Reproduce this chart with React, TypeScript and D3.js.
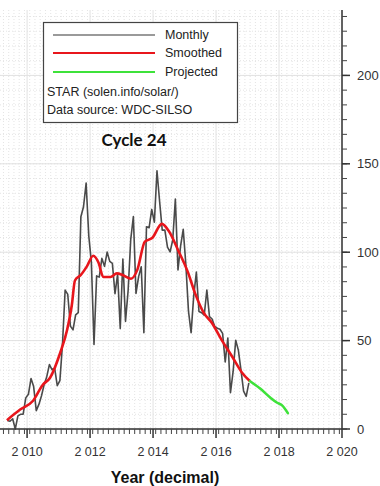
import React from "react";
import * as d3 from "d3";

// monthly sunspot numbers, May 2009 .. Jan 2017 (one value per month)
const monthlyStart = 2009 + 4.5 / 12;
const monthly = [
  4.8, 4.4, 5.8, 0.0, 7.4, 8.3, 8.4, 17.6,
  19.6, 28.5, 24.0, 10.4, 13.9, 18.8, 25.2, 29.6, 36.4, 33.6, 34.4, 24.5,
  27.3, 48.3, 78.6, 76.1, 58.2, 56.1, 64.5, 65.8, 120.1, 125.7, 139.1, 109.3,
  94.4, 47.8, 86.6, 85.9, 96.5, 92.0, 100.1, 94.8, 93.7, 76.5, 87.6, 56.8,
  96.1, 60.9, 78.3, 107.3, 120.2, 76.7, 86.2, 91.8, 54.5, 114.4, 113.9, 124.2,
  117.0, 146.1, 128.7, 112.5, 112.5, 102.9, 100.2, 106.9, 130.0, 90.0, 103.6, 112.9,
  93.0, 66.7, 54.5, 75.3, 88.8, 66.5, 65.8, 64.4, 78.6, 63.6, 62.2, 58.0,
  57.0, 56.4, 54.1, 37.9, 51.5, 20.5, 32.4, 50.2, 44.6, 33.4, 21.4, 18.5,
  26.1,
];

// smoothed curve [year, value]
const smoothed: [number, number][] = [
  [2009.36, 5], [2009.78, 11], [2010.19, 16], [2010.5, 25], [2010.73, 29],
  [2011.05, 43], [2011.27, 56], [2011.42, 70], [2011.52, 84], [2011.7, 87],
  [2011.9, 92], [2012.1, 98], [2012.27, 94], [2012.42, 86], [2012.65, 86],
  [2012.85, 88], [2013.05, 87], [2013.3, 85], [2013.5, 90], [2013.74, 106],
  [2013.97, 108], [2014.28, 116], [2014.5, 112], [2014.8, 101], [2015.1, 89],
  [2015.33, 77], [2015.6, 66], [2015.87, 60], [2016.19, 50], [2016.51, 41],
  [2016.82, 32], [2017.08, 27],
];

// projected curve [year, value]
const projected: [number, number][] = [
  [2017.08, 27], [2017.39, 23], [2017.71, 18], [2017.93, 15], [2018.09, 13.5], [2018.28, 9],
];

const xTickYears = [2010, 2012, 2014, 2016, 2018, 2020];
const yTickValues = [0, 50, 100, 150, 200];

const W = 380;
const H = 486;

export default function App() {
  const x = d3.scaleLinear().domain([2009.14, 2020]).range([0, 342]);
  const y = d3.scaleLinear().domain([0, 237]).range([429, 10]);

  const monthlyPts: [number, number][] = monthly.map((v, i) => [monthlyStart + i / 12, v]);

  const lineLin = d3
    .line<[number, number]>()
    .x((d) => x(d[0]))
    .y((d) => y(d[1]));
  const lineSmooth = d3
    .line<[number, number]>()
    .x((d) => x(d[0]))
    .y((d) => y(d[1]))
    .curve(d3.curveMonotoneX);

  const x0 = x(2020);
  const y0 = y(0);

  // minor ticks: every 2 months on x, every 50/6 on y
  const xMinor = d3.range(2009.25, 2020.0001, 1 / 6).filter((v) => x(v) >= 0);
  const yMinor = d3.range(0, 237, 50 / 6);

  return (
    <div style={{ position: "fixed", left: 0, top: 0 }}>
      <svg width={W} height={H} style={{ display: "block", background: "#fff" }}>
        {/* grid */}
        <g>
          {xMinor.map((v, i) => (
            <line key={"gx" + i} x1={x(v)} x2={x(v)} y1={y(237)} y2={y0}
              stroke="#e4e4e4" strokeWidth={1} strokeDasharray="1,2" />
          ))}
          {yMinor.map((v, i) => (
            <line key={"gy" + i} x1={0} x2={x0} y1={y(v)} y2={y(v)}
              stroke="#e4e4e4" strokeWidth={1} strokeDasharray="1,2" />
          ))}
          {xTickYears.map((v) => (
            <line key={"GX" + v} x1={x(v)} x2={x(v)} y1={y(237)} y2={y0}
              stroke="#e2e2e2" strokeWidth={1} />
          ))}
          {yTickValues.map((v) => (
            <line key={"GY" + v} x1={0} x2={x0} y1={y(v)} y2={y(v)}
              stroke="#e2e2e2" strokeWidth={1} />
          ))}
        </g>

        {/* series */}
        <path d={lineLin(monthlyPts) || ""} fill="none" stroke="#4a4a4a" strokeWidth={1.6} strokeLinejoin="round" />
        <path d={lineSmooth(smoothed) || ""} fill="none" stroke="#e8161c" strokeWidth={2.6} strokeLinejoin="round" />
        <path d={lineSmooth(projected) || ""} fill="none" stroke="#3ee23a" strokeWidth={2.6} strokeLinecap="round" />

        {/* x axis */}
        <g fontFamily="Liberation Sans, Arial, sans-serif" fontSize={12.5} fill="#333">
          <line x1={0} x2={x0} y1={y0} y2={y0} stroke="#333" strokeWidth={1.5} />
          {xMinor.map((v, i) => (
            <line key={"tx" + i} x1={x(v)} x2={x(v)} y1={y0} y2={y0 + 5} stroke="#444" strokeWidth={1} />
          ))}
          {xTickYears.map((v) => (
            <g key={"X" + v}>
              <line x1={x(v)} x2={x(v)} y1={y0} y2={y0 + 9} stroke="#333" strokeWidth={1.5} />
              <text x={x(v)} y={y0 + 27} textAnchor="middle">
                {String(v).slice(0, 1) + " " + String(v).slice(1)}
              </text>
            </g>
          ))}
        </g>

        {/* y axis (right) */}
        <g fontFamily="Liberation Sans, Arial, sans-serif" fontSize={13} fill="#333">
          <line x1={x0} x2={x0} y1={y(237)} y2={y0} stroke="#333" strokeWidth={1.5} />
          {yMinor.map((v, i) => (
            <line key={"ty" + i} x1={x0} x2={x0 + 5} y1={y(v)} y2={y(v)} stroke="#444" strokeWidth={1} />
          ))}
          {yTickValues.map((v) => (
            <g key={"Y" + v}>
              <line x1={x0} x2={x0 + 8} y1={y(v)} y2={y(v)} stroke="#333" strokeWidth={1.5} />
              <text x={x0 + 15} y={y(v)} dy="0.35em">{v}</text>
            </g>
          ))}
        </g>

        {/* axis title */}
        <text x={165} y={483} textAnchor="middle" fontFamily="Liberation Sans, Arial, sans-serif"
          fontWeight="bold" fontSize={16} fill="#111">Year (decimal)</text>

        {/* legend */}
        <g fontFamily="Liberation Sans, Arial, sans-serif" fontSize={12.5} fill="#222">
          <rect x={43.5} y={22.5} width={194} height={100} fill="#fff" stroke="#444" strokeWidth={1.2} />
          <line x1={53} x2={155} y1={35} y2={35} stroke="#9a9a9a" strokeWidth={2} />
          <text x={165} y={35} dy="0.35em">Monthly</text>
          <line x1={53} x2={155} y1={53} y2={53} stroke="#e8161c" strokeWidth={2} />
          <text x={165} y={53} dy="0.35em">Smoothed</text>
          <line x1={53} x2={155} y1={72} y2={72} stroke="#3ee23a" strokeWidth={2} />
          <text x={165} y={72} dy="0.35em">Projected</text>
          <text x={47} y={92} dy="0.35em">STAR (solen.info/solar/)</text>
          <text x={47} y={110} dy="0.35em">Data source: WDC-SILSO</text>
        </g>

        <text x={134} y={140} dy="0.35em" textAnchor="middle" fontFamily="Lato, Open Sans, sans-serif"
          fontWeight="bold" fontSize={17} fill="#111">Cycle 24</text>
      </svg>
    </div>
  );
}
